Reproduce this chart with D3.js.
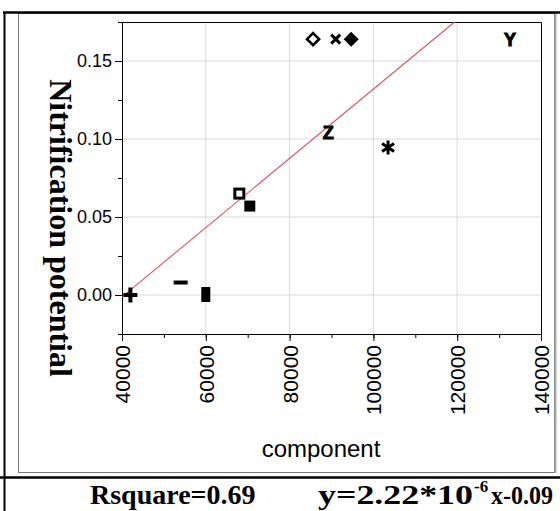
<!DOCTYPE html>
<html>
<head>
<meta charset="utf-8">
<script src="https://cdn.jsdelivr.net/npm/d3@7"></script>
<style>
  body { margin: 0; background: #fff; }
  svg { display: block; }
</style>
</head>
<body>
<div id="chart"></div>
<script>
// data
var xs = [42000, 54000, 60000, 68000, 70500, 89200, 103500, 85600, 91000, 94700, 132600];
var ys = [0.000, 0.008, 0.000, 0.065, 0.057, 0.104, 0.0945, 0.164, 0.164, 0.164, 0.164];
var markers = ['plus', 'dash', 'bar', 'sqOpen', 'sqFill', 'Z', 'asterisk', 'diaOpen', 'times', 'diaFill', 'Y'];
var xTicks = [40000, 60000, 80000, 100000, 120000, 140000];
var yTicks = [0, 0.05, 0.10, 0.15];
var slope = 2.22e-6, intercept = -0.09;

var w = 560, h = 511;
var pLeft = 122, pRight = 541, pTop = 22, pBottom = 334;

var x = d3.scaleLinear().domain([40000, 140000]).range([pLeft, pRight]);
var y = d3.scaleLinear().domain([-0.025, 0.175]).range([pBottom, pTop]);

var svg = d3.select('#chart').append('svg')
  .attr('width', w)
  .attr('height', h);

// outer table-like frame
svg.append('rect')
  .attr('x', 18.5).attr('y', 13.5).attr('width', 536).attr('height', 459)
  .attr('fill', '#fff').attr('stroke', '#777').attr('stroke-width', 1);
svg.append('line').attr('x1', 555.5).attr('x2', 555.5).attr('y1', 14).attr('y2', 473)
  .attr('stroke', '#aaa').attr('stroke-width', 2);
svg.append('line').attr('x1', 3).attr('x2', 560).attr('y1', 12.5).attr('y2', 12.5)
  .attr('stroke', '#000').attr('stroke-width', 2.5);
svg.append('line').attr('x1', 4.5).attr('x2', 4.5).attr('y1', 12).attr('y2', h)
  .attr('stroke', '#000').attr('stroke-width', 2);
svg.append('line').attr('x1', 0).attr('x2', w).attr('y1', 477.5).attr('y2', 477.5)
  .attr('stroke', '#000').attr('stroke-width', 2.5);

// grid
svg.append('g').selectAll('line')
  .data(xTicks.slice(1, -1)).enter().append('line')
  .attr('x1', d => x(d)).attr('x2', d => x(d))
  .attr('y1', pTop).attr('y2', pBottom)
  .attr('stroke', '#d9d9d9');
svg.append('g').selectAll('line')
  .data(yTicks).enter().append('line')
  .attr('x1', pLeft).attr('x2', pRight)
  .attr('y1', d => y(d)).attr('y2', d => y(d))
  .attr('stroke', '#d9d9d9');

// frame top/right
svg.append('path')
  .attr('d', 'M' + pLeft + ',' + (pTop + 0.5) + 'H' + (pRight + 0.5) + 'V' + pBottom)
  .attr('fill', 'none').attr('stroke', '#000');

// minor ticks
var xMinor = d3.range(40000, 140001, 10000);
var yMinor = d3.range(-0.025, 0.1751, 0.025);
svg.append('g')
  .attr('transform', 'translate(0,' + pBottom + ')')
  .call(d3.axisBottom(x).tickValues(xMinor).tickSize(4).tickFormat(''))
  .call(g => g.select('.domain').remove());
svg.append('g')
  .attr('transform', 'translate(' + pLeft + ',0)')
  .call(d3.axisLeft(y).tickValues(yMinor).tickSize(4).tickFormat(''))
  .call(g => g.select('.domain').remove());

// main axes
var xAxis = svg.append('g')
  .attr('transform', 'translate(0,' + pBottom + ')')
  .call(d3.axisBottom(x).tickValues(xTicks).tickSize(7).tickSizeOuter(0).tickFormat(d3.format('d')));
xAxis.selectAll('text')
  .attr('transform', 'rotate(-90)')
  .attr('text-anchor', 'end')
  .attr('x', -11).attr('y', 0).attr('dy', '0.36em')
  .style('font', '21px "Liberation Sans", Arial, sans-serif')
  .attr('fill', '#000');

var yAxis = svg.append('g')
  .attr('transform', 'translate(' + pLeft + ',0)')
  .call(d3.axisLeft(y).tickValues(yTicks).tickSize(7).tickSizeOuter(0).tickFormat(d3.format('.2f')));
yAxis.selectAll('text')
  .attr('x', -10)
  .style('font', '18px "Liberation Sans", Arial, sans-serif')
  .attr('fill', '#000');

// fitted line
var xEnd = (0.175 - intercept) / slope;
var line = d3.line().x(d => x(d)).y(d => y(slope * d + intercept));
svg.append('path')
  .attr('d', line([40000, xEnd]))
  .attr('fill', 'none').attr('stroke', '#e0505e').attr('stroke-width', 1.1);

// markers
var pts = xs.map((d, i) => ({x: d, y: ys[i], m: markers[i]}));
var mk = svg.append('g').selectAll('g')
  .data(pts).enter().append('g')
  .attr('transform', d => 'translate(' + x(d.x) + ',' + y(d.y) + ')');

mk.each(function(d) {
  var g = d3.select(this);
  if (d.m == 'plus') {
    g.append('path').attr('d', 'M-7,0H7M0,-7.5V7.5').attr('stroke', '#000').attr('stroke-width', 4);
  } else if (d.m == 'dash') {
    g.append('rect').attr('x', -7).attr('y', -2).attr('width', 14).attr('height', 4);
  } else if (d.m == 'bar') {
    g.append('rect').attr('x', -4.5).attr('y', -8).attr('width', 9).attr('height', 15);
  } else if (d.m == 'sqOpen') {
    g.append('rect').attr('x', -4.5).attr('y', -4.5).attr('width', 9).attr('height', 9)
      .attr('fill', 'none').attr('stroke', '#000').attr('stroke-width', 3);
  } else if (d.m == 'sqFill') {
    g.append('rect').attr('x', -5.5).attr('y', -5.5).attr('width', 11).attr('height', 11);
  } else if (d.m == 'diaOpen') {
    g.append('path').attr('d', 'M0,-6L6,0L0,6L-6,0Z')
      .attr('fill', 'none').attr('stroke', '#000').attr('stroke-width', 2.6);
  } else if (d.m == 'diaFill') {
    g.append('path').attr('d', 'M0,-7.5L7.5,0L0,7.5L-7.5,0Z');
  } else if (d.m == 'times') {
    g.append('path').attr('d', 'M-4.5,-4.5L4.5,4.5M4.5,-4.5L-4.5,4.5')
      .attr('stroke', '#000').attr('stroke-width', 3);
  } else if (d.m == 'asterisk') {
    g.append('path').attr('d', 'M0,-7V7M-6,-4L6,4M6,-4L-6,4')
      .attr('stroke', '#000').attr('stroke-width', 3);
  } else {
    g.append('text').text(d.m)
      .attr('text-anchor', 'middle').attr('dy', '0.36em')
      .attr('stroke', '#000').attr('stroke-width', 1)
      .style('font', 'bold 18px "Liberation Sans", Arial, sans-serif');
  }
});

// axis titles
svg.append('text')
  .attr('transform', 'translate(50,228) rotate(90)')
  .attr('text-anchor', 'middle')
  .style('font', 'bold 32px "Liberation Serif", "Times New Roman", serif')
  .text('Nitrification potential');

svg.append('text')
  .attr('x', 321).attr('y', 457)
  .attr('text-anchor', 'middle')
  .style('font', '24px "Liberation Sans", Arial, sans-serif')
  .text('component');

// equation row
var eq = svg.append('text')
  .attr('y', 504)
  .style('font', 'bold 28px "Liberation Serif", "Times New Roman", serif');
eq.append('tspan').attr('x', 90).text('Rsquare=0.69');
eq.append('tspan').attr('x', 318).attr('textLength', 155).attr('lengthAdjust', 'spacingAndGlyphs').text('y=2.22*10');
eq.append('tspan').attr('x', 474).attr('dy', -12).style('font-size', '17px').text('-6');
eq.append('tspan').attr('x', 491).attr('dy', 12).style('font-size', '26px')
  .attr('textLength', 62).attr('lengthAdjust', 'spacingAndGlyphs').text('x-0.09');
</script>
</body>
</html>
